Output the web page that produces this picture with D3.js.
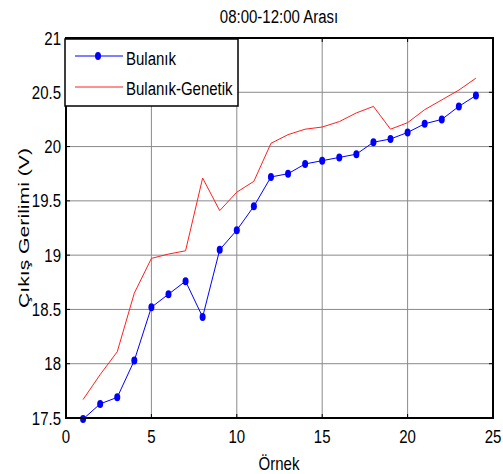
<!DOCTYPE html>
<html>
<head>
<meta charset="utf-8">
<script src="https://cdn.jsdelivr.net/npm/d3@7"></script>
<style>
  body { margin: 0; background: #fff; }
  text { font-family: "Liberation Sans", Arial, sans-serif; fill: #000; }
</style>
</head>
<body>
<div id="chart"></div>
<script>
// sample numbers 1..24
var samples = d3.range(1, 25);
var bulanik = [17.49, 17.63, 17.69, 18.03, 18.52, 18.64, 18.76, 18.43, 19.05, 19.23, 19.45, 19.72,
               19.75, 19.84, 19.87, 19.90, 19.93, 20.04, 20.07, 20.13, 20.21, 20.25, 20.37, 20.47];
var bulanikGenetik = [17.67, 17.90, 18.11, 18.65, 18.97, 19.01, 19.04, 19.71, 19.41, 19.58, 19.68, 20.03,
                      20.11, 20.16, 20.18, 20.23, 20.31, 20.37, 20.16, 20.22, 20.34, 20.43, 20.52, 20.63];
var xTicks = [0, 5, 10, 15, 20, 25];
var yTicks = [17.5, 18, 18.5, 19, 19.5, 20, 20.5, 21];
var seriesNames = ["Bulanık", "Bulanık-Genetik"];

var width = 503, height = 474;
// plot box (window.top is reserved, so prefixed names)
var pLeft = 66, pRight = 493, pTop = 38, pBottom = 418;
var stretch = 1.27;

var x = d3.scaleLinear().domain([0, 25]).range([pLeft, pRight]);
var y = d3.scaleLinear().domain([17.5, 21]).range([pBottom, pTop]);

var svg = d3.select("#chart").
  append("svg").
  attr("width", width).
  attr("height", height);

// text drawn a bit taller than wide, like the original export
function label(tx, ty, str, anchor) {
  return svg.append("text").
    attr("transform", "translate(" + tx + "," + ty + ") scale(1," + stretch + ")").
    attr("text-anchor", anchor).
    style("font-size", "15px").
    text(str);
}

// grid
svg.selectAll("line.gx").
  data(xTicks.slice(1, -1)).
  enter().append("line").
  attr("x1", function(d) { return x(d); }).
  attr("x2", function(d) { return x(d); }).
  attr("y1", pTop).attr("y2", pBottom).
  attr("stroke", "#8a8a8a").attr("stroke-width", 1);

svg.selectAll("line.gy").
  data(yTicks.slice(1, -1)).
  enter().append("line").
  attr("y1", function(d) { return y(d); }).
  attr("y2", function(d) { return y(d); }).
  attr("x1", pLeft).attr("x2", pRight).
  attr("stroke", "#8a8a8a").attr("stroke-width", 1);

// inward ticks on all four sides
var tl = 4;
xTicks.forEach(function(d) {
  svg.append("line").attr("x1", x(d)).attr("x2", x(d)).attr("y1", pBottom).attr("y2", pBottom - tl).attr("stroke", "#000");
  svg.append("line").attr("x1", x(d)).attr("x2", x(d)).attr("y1", pTop).attr("y2", pTop + tl).attr("stroke", "#000");
});
yTicks.forEach(function(d) {
  svg.append("line").attr("y1", y(d)).attr("y2", y(d)).attr("x1", pLeft).attr("x2", pLeft + tl).attr("stroke", "#000");
  svg.append("line").attr("y1", y(d)).attr("y2", y(d)).attr("x1", pRight).attr("x2", pRight - tl).attr("stroke", "#000");
});

// series
var line = d3.line().
  x(function(d) { return x(d[0]); }).
  y(function(d) { return y(d[1]); });

svg.append("path").
  datum(d3.zip(samples, bulanikGenetik)).
  attr("d", line).
  attr("fill", "none").
  attr("stroke", "#ff2020").
  attr("stroke-width", 1);

svg.append("path").
  datum(d3.zip(samples, bulanik)).
  attr("d", line).
  attr("fill", "none").
  attr("stroke", "#0000ff").
  attr("stroke-width", 1);

svg.selectAll("ellipse.pt").
  data(d3.zip(samples, bulanik)).
  enter().append("ellipse").
  attr("cx", function(d) { return x(d[0]); }).
  attr("cy", function(d) { return y(d[1]); }).
  attr("rx", 3).attr("ry", 4).
  attr("fill", "#0000ff");

// axes box
svg.append("rect").
  attr("x", pLeft).attr("y", pTop).
  attr("width", pRight - pLeft).attr("height", pBottom - pTop).
  attr("fill", "none").attr("stroke", "#000").attr("stroke-width", 2);

// tick labels
xTicks.forEach(function(d) { label(x(d), 443, d, "middle"); });
yTicks.forEach(function(d) { label(61, y(d) + 6.5, d, "end"); });

// titles
label(279, 22.5, "08:00-12:00 Arası", "middle");
label(279, 470, "Örnek", "middle");

svg.append("text").
  attr("transform", "translate(29," + ((pTop + pBottom) / 2) + ") rotate(-90)").
  attr("text-anchor", "middle").
  attr("textLength", 160).
  attr("lengthAdjust", "spacingAndGlyphs").
  style("font-size", "15px").
  text("Çıkış Gerilimi (V)");

// legend
var lg = { x: 65, y: 39, w: 173, h: 67 };
svg.append("rect").
  attr("x", lg.x).attr("y", lg.y).
  attr("width", lg.w).attr("height", lg.h).
  attr("fill", "#fff").attr("stroke", "#000").attr("stroke-width", 1.5);

svg.append("line").attr("x1", 75).attr("x2", 123).attr("y1", 56).attr("y2", 56).attr("stroke", "#0000ff");
svg.append("ellipse").attr("cx", 98).attr("cy", 56).attr("rx", 3).attr("ry", 4).attr("fill", "#0000ff");
svg.append("line").attr("x1", 75).attr("x2", 123).attr("y1", 87).attr("y2", 87).attr("stroke", "#ff2020");

label(126, 65, seriesNames[0], "start");
label(126, 95, seriesNames[1], "start");
</script>
</body>
</html>
